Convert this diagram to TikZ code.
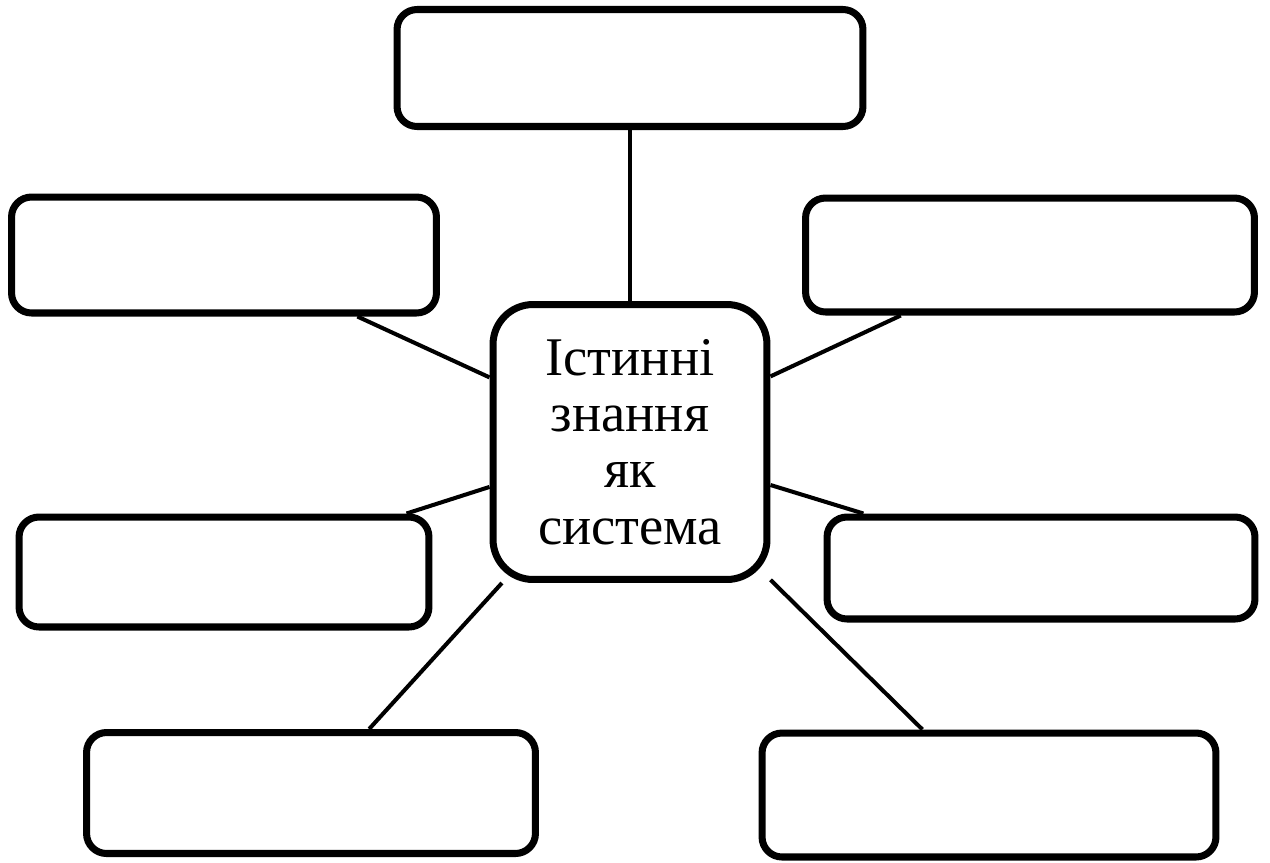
\documentclass[tikz,border=0pt]{standalone}
\usepackage{fontspec}
\setmainfont{Liberation Serif}
\begin{document}
\begin{tikzpicture}[x=0.02cm,y=-0.02cm,line join=round]
\tikzstyle{box}=[draw,line width=4pt,rounded corners=0.4cm,fill=white,inner sep=0pt]
\useasboundingbox (0,0) rectangle (1270,862);
\node[box,rounded corners=0.8cm,minimum width=5.48cm,minimum height=5.5cm,align=center,font=\fontsize{31}{32}\selectfont] (ist) at (630,442) {Істинні\\ знання\\ як\\ система};
\node[box,minimum width=9.32cm,minimum height=2.34cm] (b1) at (630,68) {};
\node[box,minimum width=8.5cm,minimum height=2.32cm] (b2) at (224,255) {};
\node[box,minimum width=8.98cm,minimum height=2.28cm] (b3) at (1030,255) {};
\node[box,minimum width=8.2cm,minimum height=2.2cm] (b4) at (224,572) {};
\node[box,minimum width=8.56cm,minimum height=2.04cm] (b5) at (1041,568) {};
\node[box,minimum width=8.98cm,minimum height=2.42cm] (b6) at (311,793) {};
\node[box,minimum width=9.08cm,minimum height=2.48cm] (b7) at (989,795) {};
\foreach \b in {b1,b2,b3,b4,b5,b6,b7}
  \draw[line width=2.3pt] (ist) -- (\b);
\end{tikzpicture}
\end{document}
